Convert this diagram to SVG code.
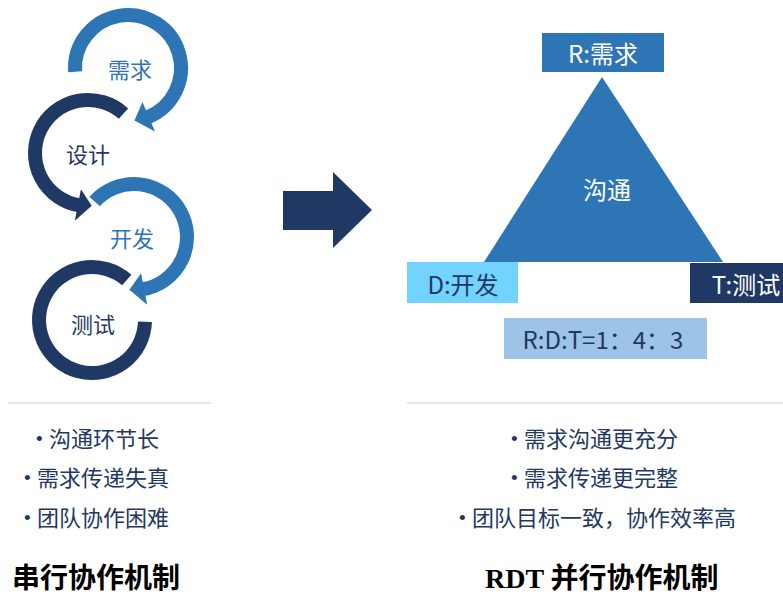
<svg xmlns="http://www.w3.org/2000/svg" width="783" height="594" viewBox="0 0 783 594">
<style>
.ring{fill:none;stroke-width:14}
.lb{fill:#2E75B6}.db{fill:#1F3864}
.rl{stroke:#2E75B6}.rd{stroke:#1F3864}
.cl{font-family:"Noto Sans CJK SC","Noto Sans",sans-serif;font-size:22px;text-anchor:middle;dominant-baseline:central}
.bx{font-family:"Noto Sans CJK SC","Noto Sans",sans-serif;font-size:24px;text-anchor:middle;dominant-baseline:central}
.bl{font-family:"Noto Sans CJK SC","Noto Sans",sans-serif;font-size:22px;fill:#1F3864;dominant-baseline:central}
.dot{font-family:"Liberation Sans",sans-serif;font-size:19px}
.tt{font-family:"Liberation Serif","Noto Sans CJK SC",serif;font-size:28px;font-weight:bold;fill:#000;dominant-baseline:central}
.sep{stroke:#E7E6E6;stroke-width:2}
</style>
<rect width="783" height="594" fill="#fff"/>
<g id="req">
<path class="ring rl" d="M75.13,71.7 A53,53 0 1 1 147.85,117.14"/>
<polygon class="lb" points="142.46,102.06 154.96,131.51 134.46,120.6"/>
<text class="cl lb" x="130" y="68">需求</text>
</g>
<g id="design">
<path class="ring rd" d="M123.46,113.61 A53,53 0 1 0 78.8,205.19"/>
<polygon class="db" points="80.94,189.32 74.83,220.73 91.7,205.87"/>
<text class="cl db" x="88" y="153">设计</text>
</g>
<g id="dev">
<path class="ring rl" d="M94.61,201.54 A53,53 0 1 1 143.2,289.19"/>
<polygon class="lb" points="141.06,273.32 147.17,304.73 129.38,289.8"/>
<text class="cl lb" x="132" y="237">开发</text>
</g>
<g id="test">
<path class="ring rd" d="M144.97,321.85 A53,53 0 1 1 126.77,280"/>
<text class="cl db" x="93" y="323">测试</text>
</g>
<g id="connectors">
<polygon class="db" points="283,191 333,191 333,172 372,210 333,248 333,230 283,230"/>
</g>
<g id="triangle">
<polygon class="lb" points="602,77 484,262 723,262"/>
<text class="bx" x="607" y="188" fill="#fff" font-size="25">沟通</text>
</g>
<g id="R">
<rect x="542" y="33" width="122" height="39" fill="#2E75B6"/>
<text class="bx" x="603" y="52" fill="#fff">R:需求</text>
</g>
<g id="D">
<rect x="407" y="262" width="111" height="41" fill="#73D3FF"/>
<text class="bx" x="463" y="283" fill="#1F3864">D:开发</text>
</g>
<g id="T">
<rect x="690" y="263" width="93" height="40" fill="#1F3864"/>
<text class="bx" x="746" y="283" fill="#fff">T:测试</text>
</g>
<g id="ratio">
<rect x="504" y="318" width="203" height="41" fill="#9DC3E6"/>
<text class="bx" x="603" y="338" fill="#1F3864" font-size="25">R:D:T=1：4：3</text>
</g>
<line class="sep" x1="8" y1="403" x2="211" y2="403"/>
<line class="sep" x1="407" y1="403" x2="783" y2="403"/>
<g id="left-list">
<text class="bl" x="36" y="438"><tspan class="dot">•</tspan><tspan x="49" y="437">沟通环节长</tspan></text>
<text class="bl" x="24" y="477"><tspan class="dot">•</tspan><tspan x="37" y="476">需求传递失真</tspan></text>
<text class="bl" x="24" y="517"><tspan class="dot">•</tspan><tspan x="37" y="516">团队协作困难</tspan></text>
</g>
<g id="right-list">
<text class="bl" x="511" y="438"><tspan class="dot">•</tspan><tspan x="524" y="437">需求沟通更充分</tspan></text>
<text class="bl" x="511" y="477"><tspan class="dot">•</tspan><tspan x="524" y="476">需求传递更完整</tspan></text>
<text class="bl" x="459" y="517"><tspan class="dot">•</tspan><tspan x="472" y="516">团队目标一致，协作效率高</tspan></text>
</g>
<text class="tt" x="12" y="578">串行协作机制</text>
<text class="tt" x="485" y="578">RDT 并行协作机制</text>
</svg>
